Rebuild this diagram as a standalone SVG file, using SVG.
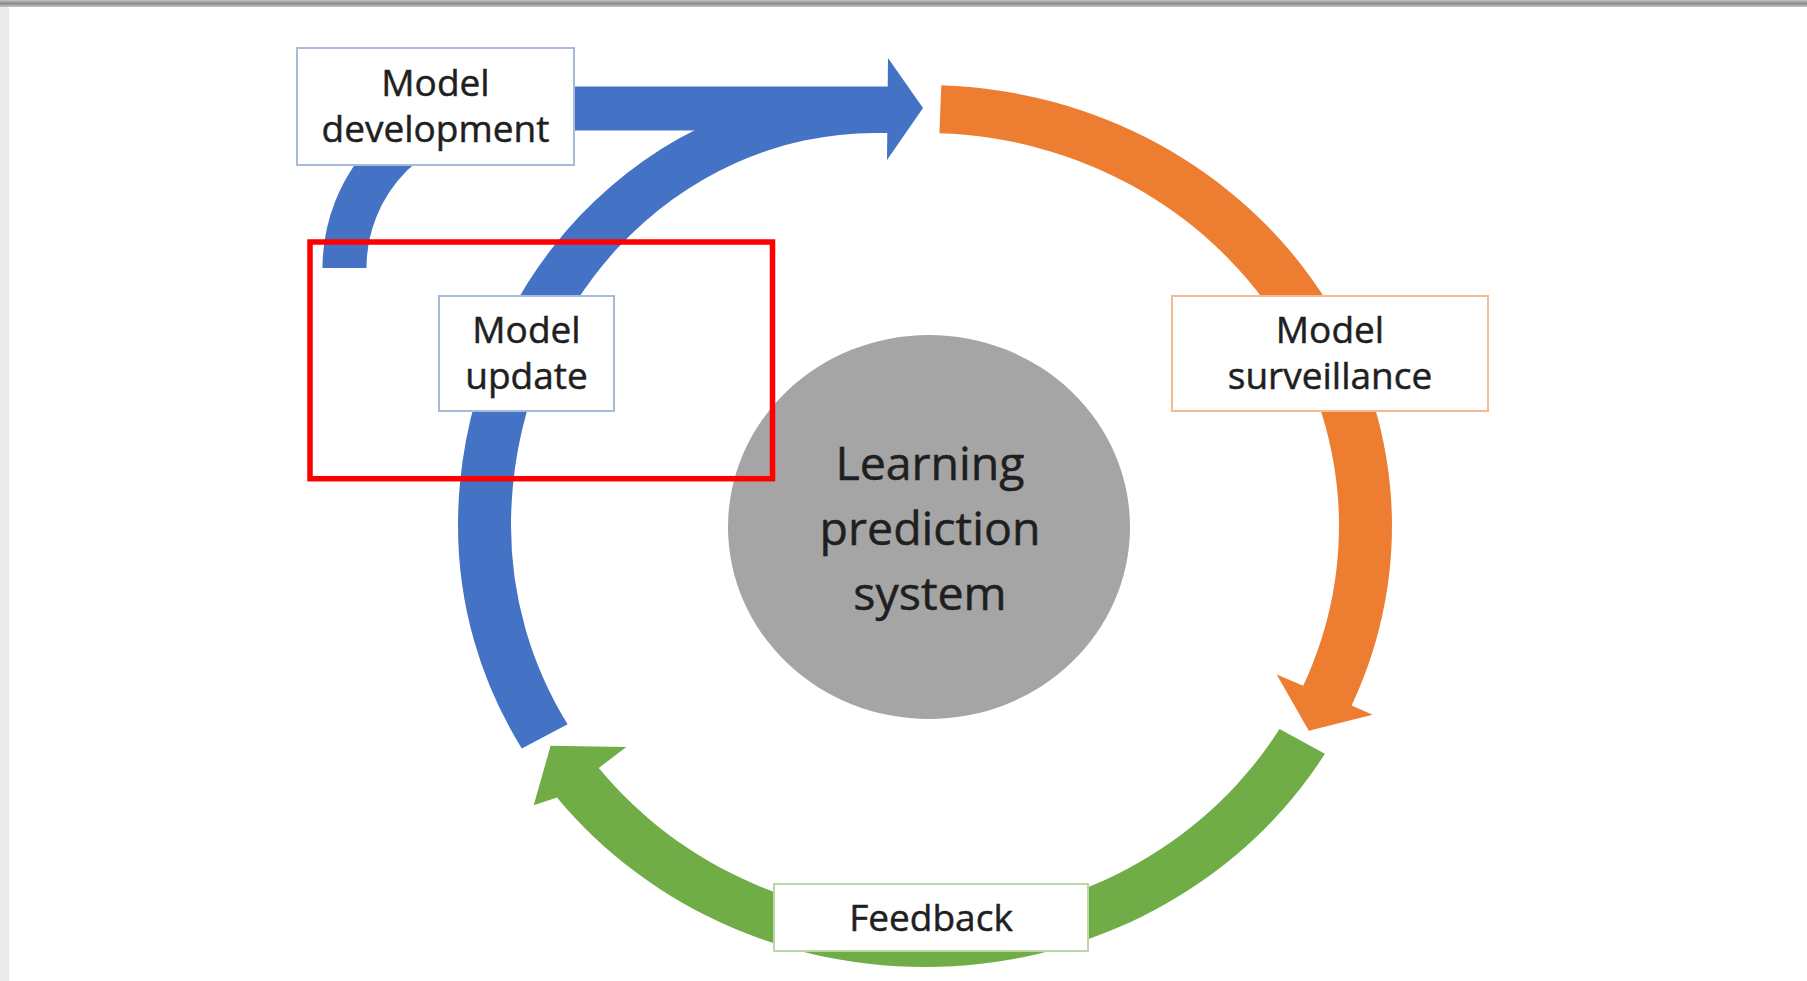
<svg xmlns="http://www.w3.org/2000/svg" width="1807" height="981" viewBox="0 0 1807 981">
  <defs>
    <style>
      .lbl { font-family: "Open Sans", "Noto Sans", "Liberation Sans", sans-serif; fill: #1f1f1f; stroke: #1f1f1f; stroke-width: 0.5; text-anchor: middle; }
      .box-text { font-size: 37px; }
      .core-text { font-size: 46.5px; }
      .box { fill: #ffffff; stroke-width: 2; }
      .blue { fill: #4472C4; }
      .orange { fill: #ED7D31; }
      .green { fill: #70AD47; }
    </style>
    <linearGradient id="topRule" x1="0" y1="0" x2="0" y2="1">
      <stop offset="0" stop-color="#c4c4c4"/>
      <stop offset="0.5" stop-color="#8a8a8a"/>
      <stop offset="1" stop-color="#c8c8c8"/>
    </linearGradient>
  </defs>

  <!-- page background -->
  <rect x="0" y="0" width="1807" height="981" fill="#ffffff"/>
  <rect x="0" y="0" width="9" height="981" fill="#ebebeb"/>
  <rect x="0" y="0" width="1807" height="7" fill="url(#topRule)"/>

  <!-- connectors: the cycle arrows -->
  <g id="connectors">
    <!-- model development: bent arrow rising from the left and heading right -->
    <path d="M 344.5,268 A 159.5 159.5 0 0 1 504,108.5 L 890,108.5" fill="none" stroke="#4472C4" stroke-width="44"/>
    <!-- model update: left arc of the cycle joining the top arrow -->
    <path class="blue" d="M 521.8,748.5 A 467 441 0 0 1 458,526 A 417 439 0 0 1 875,87 L 890,87 L 890,133 L 875,133 A 364 393 0 0 0 511,526 A 414 393 0 0 0 567.6,724.3 Z"/>
    <polygon class="blue" points="888,58 923,108 887,160"/>
    <!-- surveillance arc with head -->
    <path class="orange" d="M 941.3,85.3 A 467 441 0 0 1 1351.6,705.4 L 1372.6,714.7 L 1308.8,730.7 L 1276.7,674.4 L 1303.2,685.8 A 414 393 0 0 0 939.4,133.2 Z"/>
    <!-- feedback arc with head -->
    <path class="green" d="M 1324.9,753.8 A 467 441 0 0 1 557.0,797.5 L 533.7,805.2 L 550.6,745.8 L 626.3,747 L 598.8,768.0 A 414 393 0 0 0 1279.5,729.0 Z"/>
  </g>

  <!-- central system -->
  <g id="node-core">
    <ellipse cx="929" cy="527" rx="201" ry="192" fill="#A5A5A5"/>
    <text class="lbl core-text" x="930" y="480">Learning</text>
    <text class="lbl core-text" x="930" y="545">prediction</text>
    <text class="lbl core-text" x="930" y="610">system</text>
  </g>

  <g id="node-development">
    <rect class="box" x="297" y="48" width="277" height="117" stroke="#a9b9da"/>
    <text class="lbl box-text" x="435.5" y="95.5">Model</text>
    <text class="lbl box-text" x="435.5" y="142">development</text>
  </g>

  <g id="node-update">
    <rect class="box" x="439" y="296" width="175" height="115" stroke="#a9b9da"/>
    <text class="lbl box-text" x="526.5" y="342.5">Model</text>
    <text class="lbl box-text" x="526.5" y="389">update</text>
  </g>

  <g id="node-surveillance">
    <rect class="box" x="1172" y="296" width="316" height="115" stroke="#f4bb92"/>
    <text class="lbl box-text" x="1330" y="342.5">Model</text>
    <text class="lbl box-text" x="1330" y="389">surveillance</text>
  </g>

  <g id="node-feedback">
    <rect class="box" x="774" y="884" width="314" height="67" stroke="#bcd6a6"/>
    <text class="lbl box-text" x="931" y="930.5">Feedback</text>
  </g>

  <!-- highlight frame -->
  <rect x="310" y="242" width="462.5" height="236.7" fill="none" stroke="#ff0000" stroke-width="5.5"/>
</svg>
